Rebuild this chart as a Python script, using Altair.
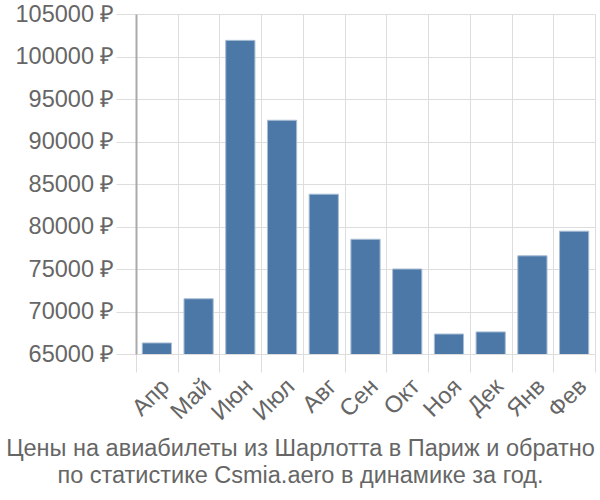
import altair as alt
import pandas as pd

months = ["Апр", "Май", "Июн", "Июл", "Авг", "Сен", "Окт", "Ноя", "Дек", "Янв", "Фев"]
prices = [66300, 71500, 101900, 92500, 83800, 78500, 75000, 67350, 67600, 76550, 79450]
y_ticks = [65000, 70000, 75000, 80000, 85000, 90000, 95000, 100000, 105000]
title_lines = ["Цены на авиабилеты из Шарлотта в Париж и обратно",
               "по статистике Csmia.aero в динамике за год."]

df = pd.DataFrame({"month": months, "price": prices})

font = "Liberation Sans"
fs = 23.5

chart = alt.Chart(df).mark_bar(
    color="#4c78a8", stroke="#a9bdd4", strokeWidth=1, clip=True,
    width=alt.RelativeBandSize(0.7)
).encode(
    x=alt.X("month:N", sort=months, title=None,
            scale=alt.Scale(paddingInner=0, paddingOuter=0),
            axis=alt.Axis(labelAngle=-45, labelFontSize=fs, labelColor="#666666",
                          labelFont=font, tickSize=18, tickColor="#dddddd",
                          tickBand="extent", gridColor="#dddddd", grid=True,
                          domain=False, labelPadding=2)),
    y=alt.Y("price:Q", title=None,
            scale=alt.Scale(domain=[65000, 105000], zero=False, nice=False),
            axis=alt.Axis(values=y_ticks, labelFontSize=fs, labelColor="#666666",
                          labelFont=font, tickSize=20, tickColor="#dddddd",
                          gridColor="#dddddd", domainColor="#aaaaaa", domainWidth=2,
                          labelExpr="datum.value + ' ₽'", labelPadding=2)),
).properties(
    width=459, height=340,
    padding={"left": 136, "top": 14, "right": 5, "bottom": 146},
    autosize=alt.AutoSizeParams(type="none"),
    title=alt.Title(title_lines, orient="bottom", anchor="middle", fontSize=23.5,
                    font=font, fontWeight="normal", color="#666666", offset=13,
                    dx=-65, lineHeight=27),
).configure_view(stroke=None)

chart.save("out.html", embed_options={"renderer": "svg", "actions": False})
